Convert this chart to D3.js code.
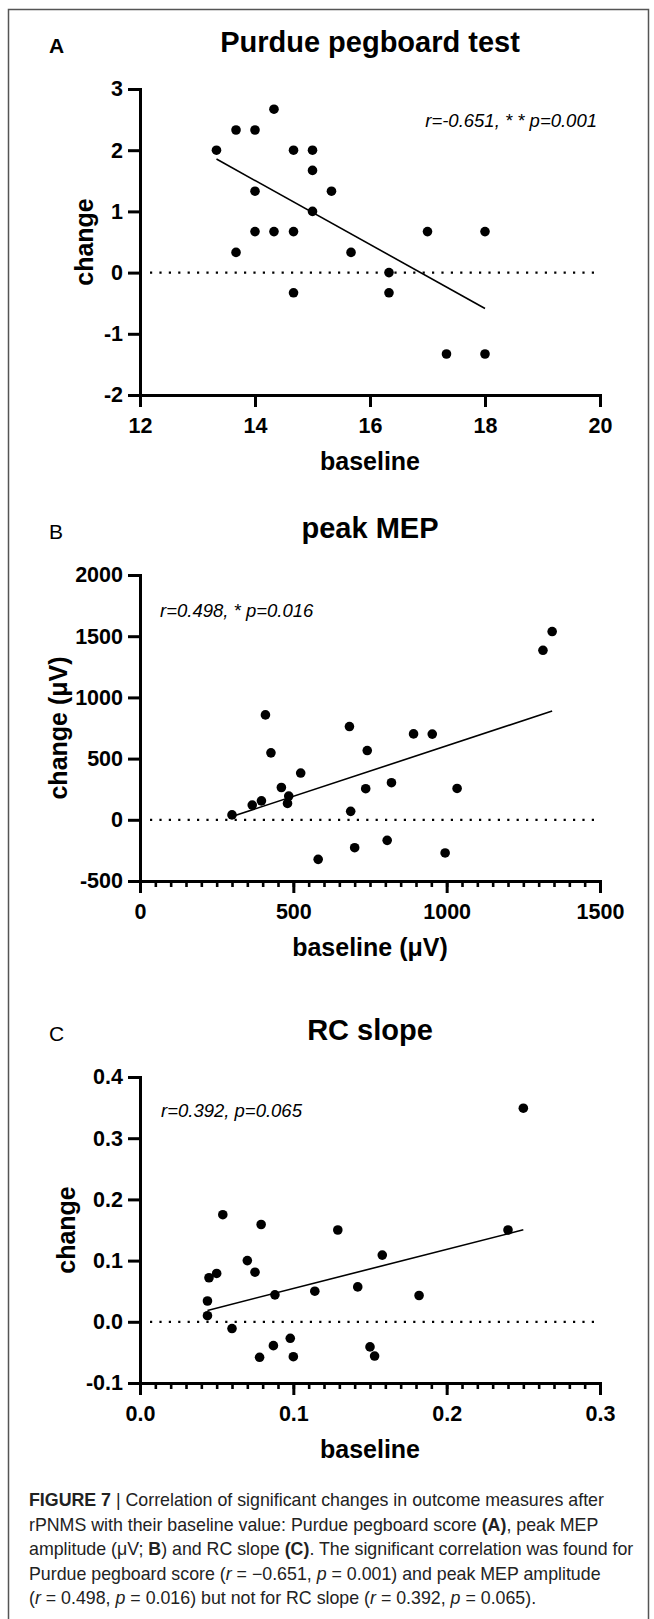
<!DOCTYPE html>
<meta charset="utf-8">
<script src="https://d3js.org/d3.v7.min.js"></script>
<style>
  body { margin: 0; background: #fff; }
  text { font-family: "Liberation Sans", Arial, sans-serif; }
</style>
<div id="figure"></div>
<script>
// ---- data ----
// A: Purdue pegboard test
var purdueBaseline = [13.33, 13.67, 14, 14.33, 14.67, 15, 15, 15.33, 14, 15, 14, 14.33, 14.67, 13.67, 15.67, 16.33, 16.33, 14.67, 17, 18, 17.33, 18];
var purdueChange   = [2, 2.33, 2.33, 2.67, 2, 2, 1.67, 1.33, 1.33, 1, 0.67, 0.67, 0.67, 0.33, 0.33, 0, -0.33, -0.33, 0.67, 0.67, -1.33, -1.33];
var purdueXTicks = [12, 14, 16, 18, 20];
var purdueYTicks = [-2, -1, 0, 1, 2, 3];

// B: peak MEP (uV)
var mepBaseline = [300, 366, 396, 409, 427, 461, 481, 485, 524, 581, 683, 687, 700, 736, 741, 806, 820, 892, 953, 995, 1034, 1314, 1344];
var mepChange   = [40, 120, 155, 857, 547, 264, 134, 194, 382, -323, 762, 69, -228, 254, 566, -168, 303, 702, 700, -271, 256, 1385, 1538];
var mepXTicks = [0, 500, 1000, 1500];
var mepYTicks = [-500, 0, 500, 1000, 1500, 2000];

// C: RC slope
var rcBaseline = [0.045, 0.050, 0.044, 0.044, 0.054, 0.060, 0.070, 0.075, 0.078, 0.079, 0.087, 0.088, 0.098, 0.100, 0.114, 0.129, 0.142, 0.150, 0.153, 0.158, 0.182, 0.240, 0.250];
var rcChange   = [0.072, 0.079, 0.034, 0.010, 0.175, -0.011, 0.100, 0.081, -0.058, 0.159, -0.039, 0.044, -0.027, -0.057, 0.050, 0.150, 0.057, -0.041, -0.056, 0.109, 0.043, 0.150, 0.349];
var rcXTicks = [0, 0.1, 0.2, 0.3];
var rcYTicks = [-0.1, 0, 0.1, 0.2, 0.3, 0.4];

var captionLines = [
  [["FIGURE 7", "b"], [" | Correlation of significant changes in outcome measures after", ""]],
  [["rPNMS with their baseline value: Purdue pegboard score ", ""], ["(A)", "b"], [", peak MEP", ""]],
  [["amplitude (\u03bcV; ", ""], ["B", "b"], [") and RC slope ", ""], ["(C)", "b"], [". The significant correlation was found for", ""]],
  [["Purdue pegboard score (", ""], ["r", "i"], [" = \u22120.651, ", ""], ["p", "i"], [" = 0.001) and peak MEP amplitude", ""]],
  [["(", ""], ["r", "i"], [" = 0.498, ", ""], ["p", "i"], [" = 0.016) but not for RC slope (", ""], ["r", "i"], [" = 0.392, ", ""], ["p", "i"], [" = 0.065).", ""]]
];

var width = 654, height = 1619;
var svg = d3.select("#figure").append("svg")
    .attr("width", width)
    .attr("height", height);

// outer frame (open at the bottom)
svg.append("path")
    .attr("d", "M8.5," + height + "V9.5H648.5V" + height)
    .attr("fill", "none")
    .attr("stroke", "#555")
    .attr("stroke-width", 1.5);

var panels = [
  {letter: "A", letterWeight: "bold", title: "Purdue pegboard test", xs: purdueBaseline, ys: purdueChange,
   xDomain: [12, 20], yDomain: [-2, 3], xTicks: purdueXTicks, yTicks: purdueYTicks, minorStep: null,
   top: 89, yLabel: "change", xLabel: "baseline", yLabelX: 93,
   note: "r=-0.651, * * p=0.001", noteAnchor: "end", noteX: 597, noteY: 127,
   fmt: function(d) { return String(d); }},
  {letter: "B", letterWeight: "normal", title: "peak MEP", xs: mepBaseline, ys: mepChange,
   xDomain: [0, 1500], yDomain: [-500, 2000], xTicks: mepXTicks, yTicks: mepYTicks, minorStep: 50,
   top: 575, yLabel: "change (\u03bcV)", xLabel: "baseline (\u03bcV)", yLabelX: 67,
   note: "r=0.498, * p=0.016", noteAnchor: "start", noteX: 160, noteY: 617,
   fmt: function(d) { return String(d); }},
  {letter: "C", letterWeight: "normal", title: "RC slope", xs: rcBaseline, ys: rcChange,
   xDomain: [0, 0.3], yDomain: [-0.1, 0.4], xTicks: rcXTicks, yTicks: rcYTicks, minorStep: 0.01,
   top: 1077, yLabel: "change", xLabel: "baseline", yLabelX: 75,
   note: "r=0.392, p=0.065", noteAnchor: "start", noteX: 161, noteY: 1117,
   fmt: function(d) { return d.toFixed(1); }}
];

var left = 140, right = 600, plotH = 306;

panels.forEach(function(p) {
  var bottom = p.top + plotH;
  var x = d3.scaleLinear().domain(p.xDomain).range([left, right]);
  var y = d3.scaleLinear().domain(p.yDomain).range([bottom, p.top]);
  var g = svg.append("g");

  // panel letter and title
  g.append("text").attr("x", 49).attr("y", p.top - 36)
    .style("font-size", "21px").style("font-weight", p.letterWeight).text(p.letter);
  g.append("text").attr("x", 370).attr("y", p.top - 37).attr("text-anchor", "middle")
    .style("font-size", "29px").style("font-weight", "bold").text(p.title);

  // dotted zero line
  g.append("line")
    .attr("x1", left + 10).attr("x2", right - 6)
    .attr("y1", y(0)).attr("y2", y(0))
    .attr("stroke", "#000").attr("stroke-width", 2.2)
    .attr("stroke-dasharray", "2.2 7.2");

  // regression line (least squares)
  var mx = d3.mean(p.xs), my = d3.mean(p.ys);
  var sxy = d3.sum(p.xs, function(v, i) { return (v - mx) * (p.ys[i] - my); });
  var sxx = d3.sum(p.xs, function(v) { return (v - mx) * (v - mx); });
  var slope = sxy / sxx, icpt = my - slope * mx;
  var ext = d3.extent(p.xs);
  g.append("line")
    .attr("x1", x(ext[0])).attr("y1", y(icpt + slope * ext[0]))
    .attr("x2", x(ext[1])).attr("y2", y(icpt + slope * ext[1]))
    .attr("stroke", "#000").attr("stroke-width", 1.6);

  // points
  g.selectAll(".pt").data(p.xs).enter().append("circle")
    .attr("cx", function(d) { return x(d); })
    .attr("cy", function(d, i) { return y(p.ys[i]); })
    .attr("r", 4.8)
    .attr("fill", "#000");

  // minor x ticks
  if (p.minorStep) {
    var minor = d3.range(p.xDomain[0], p.xDomain[1] + p.minorStep / 2, p.minorStep);
    g.append("g").attr("transform", "translate(0," + bottom + ")")
      .call(d3.axisBottom(x).tickValues(minor).tickSize(6).tickSizeOuter(0).tickFormat(""))
      .call(function(a) { a.select(".domain").remove(); })
      .selectAll("line").attr("stroke-width", 2.6);
  }

  // axes
  var xa = g.append("g").attr("transform", "translate(0," + bottom + ")")
    .call(d3.axisBottom(x).tickValues(p.xTicks).tickSize(12).tickSizeOuter(0).tickPadding(11).tickFormat(p.fmt));
  var ya = g.append("g").attr("transform", "translate(" + left + ",0)")
    .call(d3.axisLeft(y).tickValues(p.yTicks).tickSize(12).tickSizeOuter(0).tickPadding(5).tickFormat(p.fmt));
  [xa, ya].forEach(function(a) {
    a.select(".domain").attr("stroke-width", 3).attr("stroke-linecap", "square");
    a.selectAll(".tick line").attr("stroke-width", 3);
    a.selectAll(".tick text")
      .style("font-family", "'Liberation Sans', Arial, sans-serif")
      .style("font-size", "21.5px").style("font-weight", "bold").attr("fill", "#000");
  });

  // axis titles
  g.append("text").attr("x", 370).attr("y", bottom + 75).attr("text-anchor", "middle")
    .style("font-size", "25px").style("font-weight", "bold").text(p.xLabel);
  g.append("text")
    .attr("transform", "translate(" + p.yLabelX + "," + (p.top + plotH / 2) + ") rotate(-90)")
    .attr("text-anchor", "middle")
    .style("font-size", "25px").style("font-weight", "bold").text(p.yLabel);

  // correlation note
  g.append("text").attr("x", p.noteX).attr("y", p.noteY).attr("text-anchor", p.noteAnchor)
    .style("font-size", "18.5px").style("font-style", "italic").text(p.note);
});

// caption
var cap = svg.append("g");
captionLines.forEach(function(line, i) {
  var t = cap.append("text").attr("x", 29).attr("y", 1506 + i * 24.5)
    .style("font-size", "17.8px").attr("fill", "#222");
  line.forEach(function(seg) {
    var s = t.append("tspan").text(seg[0]);
    if (seg[1] === "b") s.style("font-weight", "bold");
    if (seg[1] === "i") s.style("font-style", "italic");
  });
});
</script>
